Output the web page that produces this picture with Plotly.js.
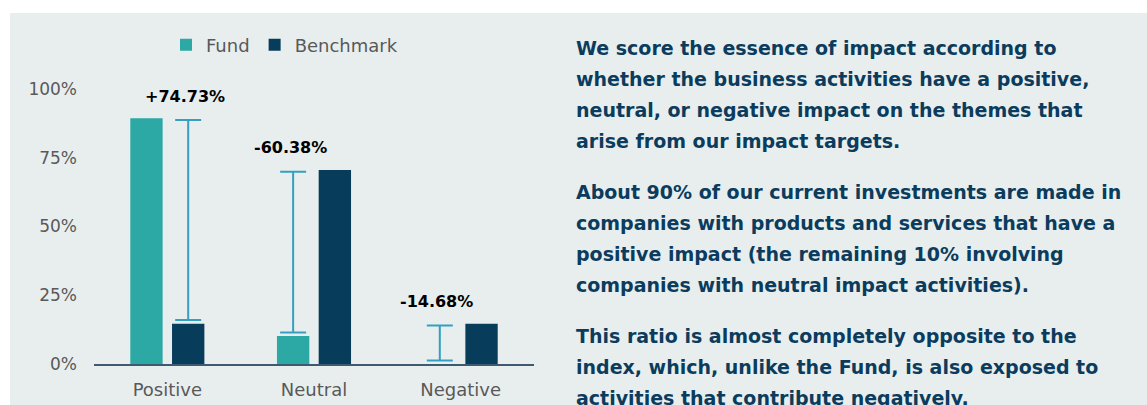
<!DOCTYPE html>
<html>
<head>
<meta charset="utf-8">
<script src="https://cdn.plot.ly/plotly-3.0.1.min.js"></script>
<style>
  html, body { margin: 0; padding: 0; background: #ffffff; }
  #chart { width: 1147px; height: 405px; }
</style>
</head>
<body>
<div id="chart"></div>
<script>
// ---- data ----
const categories = ['Positive', 'Neutral', 'Negative'];
const fundValues = [89.4, 10.2, 0];
const benchmarkValues = [14.67, 70.58, 14.68];
const diffLabels = ['+74.73%', '-60.38%', '-14.68%'];
const yTickValues = [0, 25, 50, 75, 100];
const yTickLabels = ['0%', '25%', '50%', '75%', '100%'];
const seriesNames = ['Fund', 'Benchmark'];
const paragraphLines = [
  ['We score the essence of impact according to',
   'whether the business activities have a positive,',
   'neutral, or negative impact on the themes that',
   'arise from our impact targets.'],
  ['About 90% of our current investments are made in',
   'companies with products and services that have a',
   'positive impact (the remaining 10% involving',
   'companies with neutral impact activities).'],
  ['This ratio is almost completely opposite to the',
   'index, which, unlike the Fund, is also exposed to',
   'activities that contribute negatively.']
];

// ---- styling / layout constants ----
const W = 1147, H = 405;
const M = {l: 94, r: 613, t: 89, b: 41};
const PW = W - M.l - M.r, PH = H - M.t - M.b;
const px2x = px => (px - M.l) / PW;
const py2y = py => (H - M.b - py) / PH;

const FUND_COLOR = '#2CA8A5';
const BENCH_COLOR = '#073C5B';
const ERR_COLOR = '#349FC0';
const TEXT_BLUE = '#0B3C5D';
const GREY = '#595959';
const BARGAP = 0.431, BARGROUPGAP = 0.225;
const slotOffset = (1 - BARGAP) / 4; // half of one bar slot
const padLow = 1.3, padHigh = 0.7;

const xIdx = categories.map((_, i) => i);

const traces = [
  {type: 'bar', name: seriesNames[0], x: xIdx, y: fundValues,
   marker: {color: FUND_COLOR, line: {width: 0}}, hoverinfo: 'skip'},
  {type: 'bar', name: seriesNames[1], x: xIdx, y: benchmarkValues,
   marker: {color: BENCH_COLOR, line: {width: 0}}, hoverinfo: 'skip'}
];

// difference bars drawn as error bars at the lower bar's position
const errX = [], errY = [], errPlus = [], errMinus = [], annX = [], annY = [];
xIdx.forEach(i => {
  const f = fundValues[i], b = benchmarkValues[i];
  const lowerIsFund = f < b;
  const lo = Math.min(f, b), hi = Math.max(f, b);
  const x = i + (lowerIsFund ? -slotOffset : slotOffset);
  errX.push(x);
  errY.push(lo + padLow);
  errPlus.push(hi - lo - padLow - padHigh);
  errMinus.push(0);
  annX.push(x);
  annY.push(hi - padHigh);
});
traces.push({
  type: 'scatter', mode: 'markers', x: errX, y: errY, showlegend: false,
  hoverinfo: 'skip', marker: {size: 1, color: 'rgba(0,0,0,0)'},
  error_y: {type: 'data', symmetric: false, array: errPlus, arrayminus: errMinus,
            color: ERR_COLOR, thickness: 2, width: 13}
});

const annotations = diffLabels.map((t, i) => ({
  x: annX[i], y: annY[i], xref: 'x', yref: 'y', text: '<b>' + t + '</b>',
  showarrow: false, xanchor: 'center', yanchor: 'middle', yshift: 24, xshift: -3,
  font: {family: 'DejaVu Sans', size: 16, color: '#000000'}
}));

// paragraph text lines
const TEXT_X = 574, FIRST_LINE = 48, LINE_H = 31, PARA_GAP = 20;
let ly = FIRST_LINE;
paragraphLines.forEach((para, pi) => {
  para.forEach(line => {
    annotations.push({
      x: px2x(TEXT_X), y: py2y(ly), xref: 'paper', yref: 'paper',
      text: '<b>' + line + '</b>', showarrow: false,
      xanchor: 'left', yanchor: 'middle', align: 'left',
      font: {family: 'DejaVu Sans', size: 19, color: TEXT_BLUE}
    });
    ly += LINE_H;
  });
  ly += PARA_GAP;
});

const layout = {
  width: W, height: H,
  margin: M,
  paper_bgcolor: '#ffffff',
  plot_bgcolor: 'rgba(0,0,0,0)',
  barmode: 'group', bargap: BARGAP, bargroupgap: BARGROUPGAP,
  showlegend: true,
  legend: {orientation: 'h', x: px2x(166), xanchor: 'left', y: py2y(45), yanchor: 'middle',
           font: {family: 'DejaVu Sans', size: 18, color: GREY}, bgcolor: 'rgba(0,0,0,0)',
           traceorder: 'normal', itemclick: false, itemwidth: 30},
  xaxis: {range: [-0.5, 2.5], tickvals: xIdx, ticktext: categories,
          showline: true, linecolor: '#3D5A70', linewidth: 2, ticks: '',
          showgrid: false, zeroline: false, ticklabelstandoff: 8,
          tickfont: {family: 'DejaVu Sans', size: 18, color: GREY}, fixedrange: true},
  yaxis: {range: [0, 100], tickvals: yTickValues, ticktext: yTickLabels,
          showline: false, showgrid: false, zeroline: false, ticks: '',
          ticklabelstandoff: 16,
          tickfont: {family: 'DejaVu Sans', size: 17, color: GREY}, fixedrange: true},
  shapes: [{type: 'rect', xref: 'paper', yref: 'paper', layer: 'below',
            x0: px2x(10), x1: px2x(W + 2), y0: py2y(H + 2), y1: py2y(13),
            fillcolor: '#E8EEEE', line: {width: 0}}],
  annotations: annotations
};

Plotly.newPlot('chart', traces, layout, {displayModeBar: false, staticPlot: true});
</script>
</body>
</html>
